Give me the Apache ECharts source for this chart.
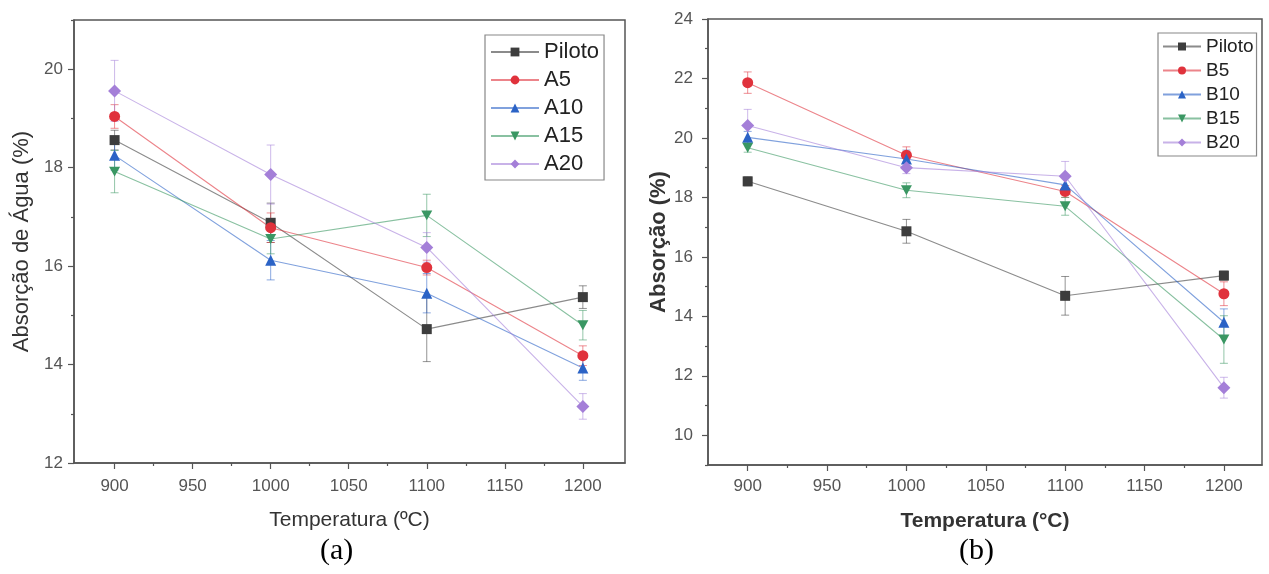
<!DOCTYPE html>
<html>
<head>
<meta charset="utf-8">
<script src="https://cdn.jsdelivr.net/npm/echarts@6/dist/echarts.min.js"></script>
<style>
  html, body { margin: 0; padding: 0; background: #fff; }
  #chart { width: 1269px; height: 574px; }
</style>
</head>
<body>
<div id="chart"></div>
<script>
// dados --------------------------------------
const temps = [900, 1000, 1100, 1200];

// (a)
const namesA = ['Piloto', 'A5', 'A10', 'A15', 'A20'];
const pilotoA = [18.56, 16.88, 14.72, 15.37];
const a5 = [19.04, 16.78, 15.97, 14.18];
const a10 = [18.25, 16.12, 15.45, 13.93];
const a15 = [17.92, 16.55, 17.03, 14.80];
const a20 = [19.56, 17.86, 16.38, 13.15];
const errPilotoA = [0.2, 0.4, 0.66, 0.23];
const errA5 = [0.24, 0.3, 0.15, 0.2];
const errA10 = [0.3, 0.4, 0.4, 0.25];
const errA15 = [0.43, 0.3, 0.43, 0.3];
const errA20 = [0.62, 0.6, 0.3, 0.26];

// (b)
const namesB = ['Piloto', 'B5', 'B10', 'B15', 'B20'];
const pilotoB = [18.54, 16.86, 14.69, 15.37];
const b5 = [21.86, 19.42, 18.2, 14.76];
const b10 = [20.02, 19.29, 18.42, 13.8];
const b15 = [19.67, 18.24, 17.7, 13.22];
const b20 = [20.42, 19.0, 18.71, 11.6];
const errPilotoB = [0.15, 0.4, 0.65, 0.15];
const errB5 = [0.36, 0.28, 0.2, 0.4];
const errB10 = [0.2, 0.3, 0.3, 0.45];
const errB15 = [0.15, 0.25, 0.3, 0.8];
const errB20 = [0.54, 0.2, 0.5, 0.35];

const xMajor = [900, 950, 1000, 1050, 1100, 1150, 1200];
const xMinor = [925, 975, 1025, 1075, 1125, 1175];
const yMajorA = [12, 14, 16, 18, 20];
const yMinorA = [13, 15, 17, 19, 21];
const yMajorB = [10, 12, 14, 16, 18, 20, 22, 24];
const yMinorB = [9, 11, 13, 15, 17, 19, 21, 23];

const colors = ['#3d3d3d', '#e0323c', '#2b63c6', '#3a9763', '#a47fd8'];
const symbols = ['rect', 'circle', 'triangle', 'path://M0,0L10,0L5,9Z', 'diamond'];
const symSizes = [10, 11, 11, 11, 13];
// ---------------------------------------------

const FONT = '"Liberation Sans", Arial, sans-serif';
const axisCol = '#555';

let chart = echarts.init(document.getElementById('chart'));

let plain = function (v) { return String(v); };

let xAxisPair = function (gridIndex, min, max, labelMargin, nameGap, bold) {
  return [
    {
      type: 'value', gridIndex: gridIndex, min: min, max: max, position: 'bottom',
      name: bold ? 'Temperatura (°C)' : 'Temperatura (ºC)',
      nameLocation: 'middle', nameGap: nameGap,
      nameTextStyle: { fontFamily: FONT, fontSize: 21, color: '#333', fontWeight: bold ? 'bold' : 'normal' },
      axisLine: { onZero: false, lineStyle: { color: axisCol, width: 1.5 } },
      axisTick: { show: true, inside: false, length: 6, customValues: xMajor, lineStyle: { color: axisCol, width: 1.2 } },
      axisLabel: { customValues: xMajor, formatter: plain, margin: labelMargin, fontFamily: FONT, fontSize: 17, color: '#555' },
      splitLine: { show: false }
    },
    {
      type: 'value', gridIndex: gridIndex, min: min, max: max, position: 'bottom',
      axisLine: { show: false },
      axisTick: { show: true, length: 3, customValues: xMinor, lineStyle: { color: axisCol, width: 1.2 } },
      axisLabel: { show: false },
      splitLine: { show: false }
    }
  ];
};

let yAxisPair = function (gridIndex, min, max, major, minor, name, labelMargin, nameGap, bold) {
  return [
    {
      type: 'value', gridIndex: gridIndex, min: min, max: max, position: 'left',
      name: name, nameLocation: 'middle', nameGap: nameGap,
      nameTextStyle: { fontFamily: FONT, fontSize: 22, color: '#333', fontWeight: bold ? 'bold' : 'normal' },
      axisLine: { show: true, onZero: false, lineStyle: { color: axisCol, width: 1.5 } },
      axisTick: { show: true, length: 6, customValues: major, lineStyle: { color: axisCol, width: 1.2 } },
      axisLabel: { customValues: major, formatter: plain, margin: labelMargin, fontFamily: FONT, fontSize: 17, color: '#555' },
      splitLine: { show: false }
    },
    {
      type: 'value', gridIndex: gridIndex, min: min, max: max, position: 'left',
      axisLine: { show: false },
      axisTick: { show: true, length: 3, customValues: minor, lineStyle: { color: axisCol, width: 1.2 } },
      axisLabel: { show: false },
      splitLine: { show: false }
    }
  ];
};

// barras de erro via custom series
let errRender = function (color) {
  return function (params, api) {
    let x = api.value(0), y = api.value(1), e = api.value(2);
    let top = api.coord([x, y + e]);
    let bot = api.coord([x, y - e]);
    let w = 4;
    let st = { stroke: color, lineWidth: 1, opacity: 0.55 };
    return {
      type: 'group',
      children: [
        { type: 'line', shape: { x1: top[0], y1: top[1], x2: bot[0], y2: bot[1] }, style: st },
        { type: 'line', shape: { x1: top[0] - w, y1: top[1], x2: top[0] + w, y2: top[1] }, style: st },
        { type: 'line', shape: { x1: bot[0] - w, y1: bot[1], x2: bot[0] + w, y2: bot[1] }, style: st }
      ]
    };
  };
};

let makeSeries = function (names, values, errs, xi, yi, tag) {
  let out = [];
  names.forEach(function (nm, i) {
    out.push({
      type: 'custom', name: tag + '_err_' + i,
      xAxisIndex: xi, yAxisIndex: yi, z: 1,
      renderItem: errRender(colors[i]),
      encode: { x: 0, y: 1 },
      data: temps.map(function (t, k) { return [t, values[i][k], errs[i][k]]; })
    });
  });
  names.forEach(function (nm, i) {
    out.push({
      type: 'line', name: nm,
      xAxisIndex: xi, yAxisIndex: yi, z: 3,
      symbol: symbols[i], symbolSize: symSizes[i], symbolKeepAspect: true,
      itemStyle: { color: colors[i] },
      lineStyle: { color: colors[i], width: 1.1, opacity: 0.6 },
      data: temps.map(function (t, k) { return [t, values[i][k]]; })
    });
  });
  return out;
};

let option = {
  animation: false,
  backgroundColor: '#fff',
  grid: [
    { left: 74, top: 20, width: 551, height: 443, show: true, borderColor: axisCol, borderWidth: 1.5, containLabel: false },
    { left: 708, top: 19, width: 554, height: 446, show: true, borderColor: axisCol, borderWidth: 1.5, containLabel: false }
  ],
  xAxis: [].concat(
    xAxisPair(0, 874, 1227, 15, 47, false),
    xAxisPair(1, 875, 1224, 13, 46, true)
  ),
  yAxis: [].concat(
    yAxisPair(0, 12, 21, yMajorA, yMinorA, 'Absorção de Água (%)', 11, 41, false),
    yAxisPair(1, 9, 24, yMajorB, yMinorB, 'Absorção (%)', 15, 35, true)
  ),
  legend: [
    {
      data: namesA, left: 485, top: 35, orient: 'vertical',
      itemWidth: 48, itemHeight: 11, itemGap: 6,
      padding: [6, 5, 5, 5],
      borderColor: '#888', borderWidth: 1.2,
      textStyle: { fontFamily: FONT, fontSize: 22, lineHeight: 22, color: '#222' },
      selectedMode: false
    },
    {
      data: namesB, left: 1158, top: 33, orient: 'vertical',
      itemWidth: 38, itemHeight: 10, itemGap: 5,
      padding: [4, 3, 4, 4],
      borderColor: '#888', borderWidth: 1.2,
      textStyle: { fontFamily: FONT, fontSize: 19, lineHeight: 19, color: '#222' },
      selectedMode: false
    }
  ],
  graphic: [
    { type: 'text', left: 320, top: 536, style: { text: '(a)', font: '30px "Liberation Serif", "Times New Roman", serif', fill: '#000' } },
    { type: 'text', left: 959, top: 536, style: { text: '(b)', font: '30px "Liberation Serif", "Times New Roman", serif', fill: '#000' } }
  ],
  series: [].concat(
    makeSeries(namesA, [pilotoA, a5, a10, a15, a20], [errPilotoA, errA5, errA10, errA15, errA20], 0, 0, 'A'),
    makeSeries(namesB, [pilotoB, b5, b10, b15, b20], [errPilotoB, errB5, errB10, errB15, errB20], 2, 2, 'B')
  )
};

chart.setOption(option);
</script>
</body>
</html>
